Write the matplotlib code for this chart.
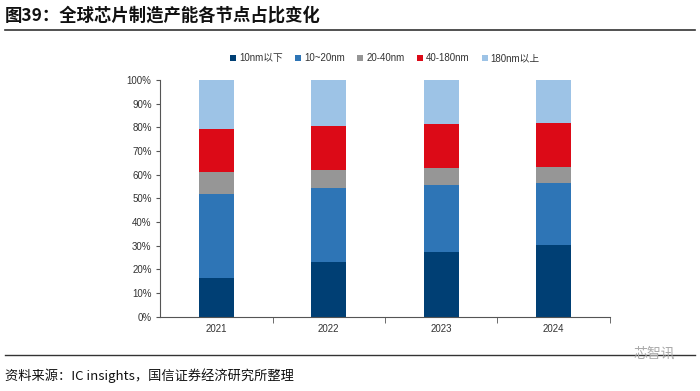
import matplotlib
matplotlib.use("Agg")
import matplotlib.pyplot as plt
import numpy as np

plt.rcParams['font.family'] = ['Noto Sans CJK SC', 'DejaVu Sans']

# 数据（从图上估读，单位 %）
years = ["2021", "2022", "2023", "2024"]
series_names = ["10nm以下", "10~20nm", "20-40nm", "40-180nm", "180nm以上"]
below_10 = [16.3, 23.0, 27.3, 30.2]
nm_10_20 = [35.4, 31.4, 28.3, 26.2]
nm_20_40 = [9.4, 7.6, 7.3, 6.9]
nm_40_180 = [18.3, 18.6, 18.5, 18.4]
above_180 = [20.6, 19.4, 18.6, 18.3]
colors = ["#003F74", "#2E75B6", "#969696", "#DC0A17", "#9DC3E6"]

fig = plt.figure(figsize=(7, 3.91), dpi=100)
ax = fig.add_axes([0.2286, 0.19, 0.6428, 0.605])

x = np.arange(len(years))
bottom = np.zeros(len(years))
for name, vals, c in zip(series_names,
                         [below_10, nm_10_20, nm_20_40, nm_40_180, above_180],
                         colors):
    ax.bar(x, vals, width=0.31, bottom=bottom, color=c, label=name)
    bottom += np.array(vals)

latin = ["Liberation Sans", "Noto Sans CJK SC", "DejaVu Sans"]
ax.set_xlim(-0.5, len(years) - 0.5)
ax.set_ylim(0, 100)
ax.set_yticks(range(0, 101, 10))
ax.set_yticklabels([f"{v}%" for v in range(0, 101, 10)], fontsize=7,
                   family=latin, color="#333333")
ax.set_xticks(x)
ax.set_xticklabels(years, fontsize=7, family=latin, color="#333333")
ax.tick_params(axis="x", length=0, pad=5)
ax.set_xticks(np.arange(0.5, len(years), 1), minor=True)
ax.tick_params(axis="x", which="minor", length=4, color="#555555")
ax.tick_params(axis="y", length=3, color="#555555", pad=3)
for s in ["top", "right"]:
    ax.spines[s].set_visible(False)
for s in ["left", "bottom"]:
    ax.spines[s].set_color("#555555")
    ax.spines[s].set_linewidth(0.8)

leg = ax.legend(loc="lower center", bbox_to_anchor=(0.5, 1.035), ncol=5,
                frameon=False, handlelength=0.6, handleheight=0.6,
                handletextpad=0.3, columnspacing=1.3,
                prop={"family": latin, "size": 7})
for t in leg.get_texts():
    t.set_color("#333333")

# 标题与来源
fig.text(0.007, 0.96, "图39：全球芯片制造产能各节点占比变化", fontsize=12.5,
         va="center", ha="left", color="#111111", fontweight="bold")
fig.add_artist(plt.Line2D([0.007, 0.993], [0.923, 0.923], color="#333333", lw=1.2))
fig.add_artist(plt.Line2D([0.007, 0.993], [0.092, 0.092], color="#333333", lw=1.0))
fig.text(0.007, 0.04, "资料来源：IC insights，国信证券经济研究所整理", fontsize=9.5,
         va="center", ha="left", color="#111111")
fig.text(0.965, 0.095, "芯智讯", fontsize=10, va="center", ha="right",
         color="#aaaaaa")

fig.savefig("out.png", dpi=100)
